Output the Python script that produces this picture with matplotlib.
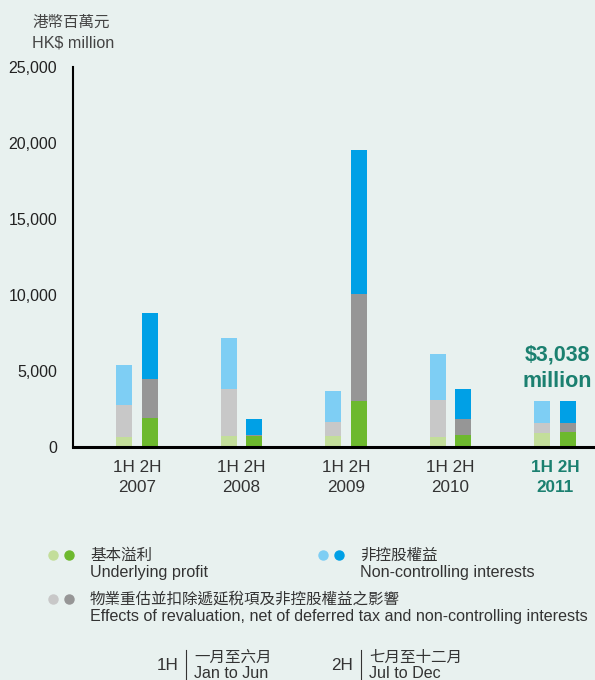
import matplotlib
matplotlib.use("Agg")
import matplotlib.pyplot as plt
import numpy as np
from matplotlib.lines import Line2D

plt.rcParams['font.family'] = ['Liberation Sans', 'Noto Sans CJK TC', 'DejaVu Sans']

# data (HK$ million)
years = ['2007', '2008', '2009', '2010', '2011']
underlying_1h = [680, 720, 745, 660, 920]
underlying_2h = [1900, 740, 3030, 790, 1010]
revaluation_1h = [2080, 3085, 900, 2435, 660]
revaluation_2h = [2560, 65, 7040, 1050, 570]
nci_1h = [2625, 3345, 2040, 3030, 1450]
nci_2h = [4330, 1030, 9475, 1975, 1460]
highlight_text = '$3,038\nmillion'

bg = '#e8f1ef'
c_green_l, c_green = '#c3de9a', '#6db92e'
c_grey_l, c_grey = '#c8c8c8', '#969696'
c_blue_l, c_blue = '#7ecef4', '#00a0e6'
teal = '#1b8070'
txt = '#333333'
EN = 11.6
ZH = 11.2

fig = plt.figure(figsize=(5.95, 6.8), dpi=100, facecolor=bg)
ax = fig.add_axes([73/595, 1-447/680, 1-73/595, (447-67)/680])
ax.set_facecolor(bg)

x = np.arange(len(years))
w = 0.153
off = 0.124

b1 = np.array(underlying_1h)
b2 = np.array(underlying_2h)
r1 = np.array(revaluation_1h)
r2 = np.array(revaluation_2h)
n1 = np.array(nci_1h)
n2 = np.array(nci_2h)

ax.bar(x-off, b1, w, color=c_green_l, linewidth=0)
ax.bar(x-off, r1, w, bottom=b1, color=c_grey_l, linewidth=0)
ax.bar(x-off, n1, w, bottom=b1+r1, color=c_blue_l, linewidth=0)
ax.bar(x+off, b2, w, color=c_green, linewidth=0)
ax.bar(x+off, r2, w, bottom=b2, color=c_grey, linewidth=0)
ax.bar(x+off, n2, w, bottom=b2+r2, color=c_blue, linewidth=0)

ax.set_xlim(-0.6124, 4.383)
ax.set_ylim(0, 25000)
ax.set_yticks(np.arange(0, 25001, 5000))
ax.set_yticklabels([f'{v:,}' for v in range(0, 25001, 5000)], fontsize=11.5, color='#222222')
ax.tick_params(axis='y', length=0, pad=11.5)
ax.set_xticks(x)
ax.set_xticklabels(['1H 2H\n' + y for y in years], fontsize=12.3, color=txt, linespacing=1.45)
ax.tick_params(axis='x', length=0, pad=9)
for lab in ax.get_xticklabels()[-1:]:
    lab.set_color(teal)
    lab.set_fontweight('bold')

for s in ['top', 'right']:
    ax.spines[s].set_visible(False)
ax.spines['left'].set_linewidth(1.5)
ax.spines['bottom'].set_linewidth(2.2)

# total annotation for 2011
ax.text(x[-1] + 0.02, (b2+r2+n2)[-1] + 550, highlight_text, ha='center', va='bottom',
        fontsize=15.5, fontweight='bold', color=teal, linespacing=1.4)

# unit label
fig.text(32/595, 1-22/680, '港幣百萬元', fontsize=ZH, color='#444444', va='center')
fig.text(32/595, 1-43/680, 'HK$ million', fontsize=EN, color='#444444', va='center')

# legend
def dots(px, py, c1, c2):
    for cx, cc in [(px, c1), (px+16, c2)]:
        fig.add_artist(Line2D([cx/595], [1-py/680], marker='o', markersize=6.5,
                              color=cc, linestyle='none', transform=fig.transFigure))

dots(53, 555, c_green_l, c_green)
fig.text(90/595, 1-555/680, '基本溢利', fontsize=ZH, color=txt, va='center')
fig.text(90/595, 1-573/680, 'Underlying profit', fontsize=EN, color=txt, va='center')
dots(323, 555, c_blue_l, c_blue)
fig.text(360/595, 1-555/680, '非控股權益', fontsize=ZH, color=txt, va='center')
fig.text(360/595, 1-573/680, 'Non-controlling interests', fontsize=EN, color=txt, va='center')
dots(53, 599, c_grey_l, c_grey)
fig.text(90/595, 1-599/680, '物業重估並扣除遞延稅項及非控股權益之影響', fontsize=ZH, color=txt, va='center')
fig.text(90/595, 1-616/680, 'Effects of revaluation, net of deferred tax and non-controlling interests',
         fontsize=EN, color=txt, va='center')

# half-year key
for hx, lx, tag, zh, en in [(157, 186, '1H', '一月至六月', 'Jan to Jun'),
                            (331, 361, '2H', '七月至十二月', 'Jul to Dec')]:
    fig.text(hx/595, 1-666/680, tag, fontsize=12.3, color=txt, va='center')
    fig.add_artist(Line2D([lx/595, lx/595], [1-650/680, 0], color=txt, linewidth=0.8,
                          transform=fig.transFigure))
    fig.text((lx+8)/595, 1-657/680, zh, fontsize=ZH, color=txt, va='center')
    fig.text((lx+8)/595, 1-674/680, en, fontsize=EN, color=txt, va='center')

fig.savefig('out.png', dpi=100, facecolor=bg)
